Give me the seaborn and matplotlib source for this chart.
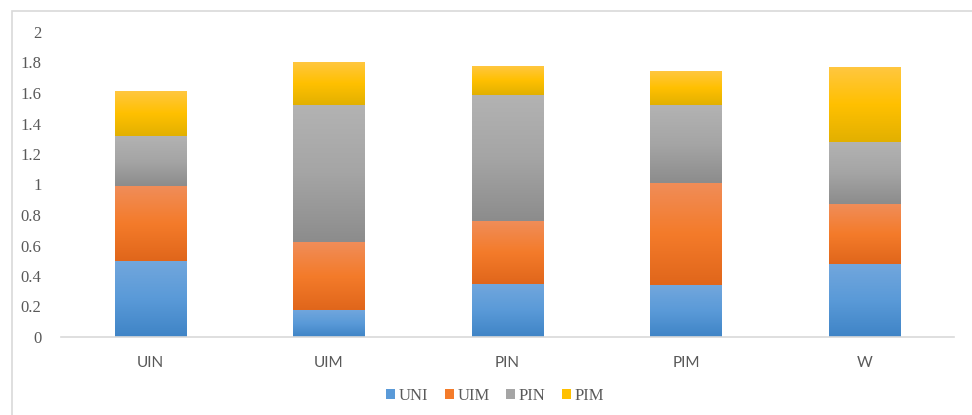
import numpy as np
import pandas as pd
import matplotlib
matplotlib.use("Agg")
import matplotlib.pyplot as plt
from matplotlib.colors import LinearSegmentedColormap
from matplotlib.patches import Rectangle
import seaborn as sns

# data
categories = ["UIN", "UIM", "PIN", "PIM", "W"]
series_names = ["UNI", "UIM", "PIN", "PIM"]
uni = [0.50, 0.18, 0.35, 0.34, 0.48]
uim = [0.49, 0.44, 0.41, 0.67, 0.39]
pin = [0.33, 0.90, 0.83, 0.51, 0.41]
pim = [0.29, 0.28, 0.19, 0.22, 0.49]
yticks = [0, 0.2, 0.4, 0.6, 0.8, 1, 1.2, 1.4, 1.6, 1.8, 2]
ytick_labels = ["0", "0.2", "0.4", "0.6", "0.8", "1", "1.2", "1.4", "1.6", "1.8", "2"]

# base colour + gradient stops (top, middle, bottom) like Excel fills
colors = {
    "UNI": ("#72a7dd", "#5a9ad8", "#3f84c6"),
    "UIM": ("#f08d59", "#f47b2a", "#e0661b"),
    "PIN": ("#b3b3b3", "#a5a5a5", "#8c8c8c"),
    "PIM": ("#ffc740", "#ffc000", "#e2b000"),
}

df = pd.DataFrame({"cat": categories, "UNI": uni, "UIM": uim, "PIN": pin, "PIM": pim})

sns.set_style("white")
plt.rcParams["font.family"] = ["Liberation Serif", "DejaVu Serif"]

fig = plt.figure(figsize=(9.72, 4.15), dpi=100)
W, H = 972, 415
# outer chart border
fig.patches.append(Rectangle((12 / W, -0.05), 1.1, 1 - 11 / H + 0.05,
                             transform=fig.transFigure, fill=False,
                             edgecolor="#d9d9d9", linewidth=1.2))

ax = fig.add_axes([61 / W, (H - 337) / H, 893 / W, 305 / H])

bottom = np.zeros(len(categories))
for name in series_names:
    sns.barplot(data=df, x="cat", y=name, order=categories, color=colors[name][1],
                width=0.4, bottom=bottom.copy(), ax=ax, linewidth=0)
    bottom += df[name].to_numpy()

# gradient overlay on each segment
n = len(categories)
for i, name in enumerate(series_names):
    cmap = LinearSegmentedColormap.from_list(name, list(reversed(colors[name])))
    grad = np.linspace(0, 1, 256).reshape(-1, 1)
    for p in ax.patches[i * n:(i + 1) * n]:
        x0, y0 = p.get_x(), p.get_y()
        w, h = p.get_width(), p.get_height()
        ax.imshow(grad, cmap=cmap, origin="lower", aspect="auto",
                  extent=(x0, x0 + w, y0, y0 + h), zorder=2, interpolation="bilinear")

ax.set_xlim(-0.5, n - 0.5)
ax.set_ylim(0, 2)
ax.set_yticks(yticks)
ax.set_yticklabels(ytick_labels)
ax.set_xlabel("")
ax.set_ylabel("")
for s in ["top", "right", "left"]:
    ax.spines[s].set_visible(False)
ax.spines["bottom"].set_color("#d9d9d9")
ax.spines["bottom"].set_linewidth(1.2)
ax.tick_params(axis="y", length=0, pad=14, labelsize=12, labelcolor="#595959")
ax.tick_params(axis="x", length=0, pad=14, labelcolor="#595959")
for t in ax.get_xticklabels():
    t.set_family(["Lato", "DejaVu Sans"])
    t.set_fontsize(11)

handles = [Rectangle((0, 0), 1, 1, facecolor=colors[s][1], edgecolor="none") for s in series_names]
fig.legend(handles, series_names, loc="center", bbox_to_anchor=(495 / W, 1 - 396 / H),
           ncol=4, frameon=False, fontsize=12, handlelength=0.55, handleheight=0.55,
           handletextpad=0.2, columnspacing=1.0, labelcolor="#595959")

fig.savefig("out.png", dpi=100)
